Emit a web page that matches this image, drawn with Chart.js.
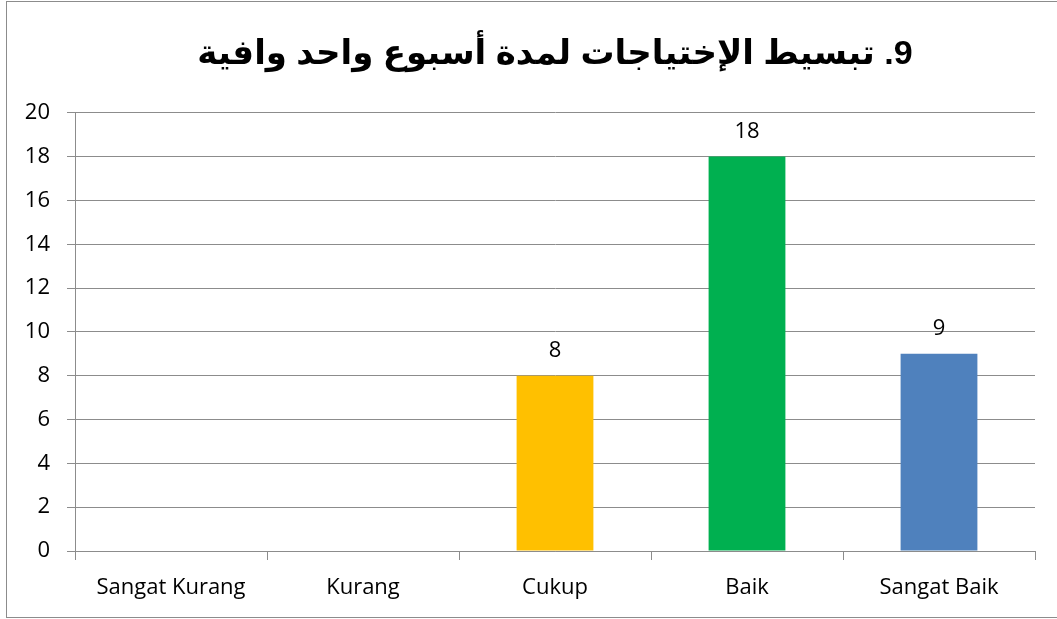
<!DOCTYPE html>
<html lang="en">
<head>
    <meta charset="UTF-8">
    <title>Chart</title>
    <script src="https://cdn.jsdelivr.net/npm/chart.js"></script>
    <style>
        body {
            margin: 0;
            background-color: white;
        }
        .frame {
            position: absolute;
            left: 6px;
            top: 1px;
            width: 1100px;
            height: 615px;
            border: 1px solid #8c8c8c;
        }
        .wrap {
            position: absolute;
            left: 0;
            top: 0;
            width: 1057px;
            height: 619px;
        }
    </style>
</head>
<body>
    <div class="frame"></div>
    <div class="wrap"><canvas id="chart"></canvas></div>

    <script>
        const categories = ['Sangat Kurang', 'Kurang', 'Cukup', 'Baik', 'Sangat Baik'];
        const values = [0, 0, 8, 18, 9];
        const barColors = ['#4F81BD', '#4F81BD', '#FFC000', '#00B050', '#4F81BD'];
        const yTicks = [0, 2, 4, 6, 8, 10, 12, 14, 16, 18, 20];
        const titleText = '\u202B9. تبسيط الإختياجات لمدة أسبوع واحد وافية\u202C';

        const labelFont = '"Open Sans", sans-serif';

        // value labels above the bars (zeros are left out, like the original)
        const valueLabels = {
            id: 'valueLabels',
            afterDatasetsDraw(chart) {
                const ctx = chart.ctx;
                const meta = chart.getDatasetMeta(0);
                ctx.save();
                ctx.font = '22px ' + labelFont;
                ctx.fillStyle = '#000';
                ctx.textAlign = 'center';
                ctx.textBaseline = 'alphabetic';
                meta.data.forEach((bar, i) => {
                    if (!values[i]) return;
                    ctx.fillText(String(values[i]), bar.x, bar.y - 19);
                });
                ctx.restore();
            }
        };

        new Chart(document.getElementById('chart'), {
            type: 'bar',
            data: {
                labels: categories,
                datasets: [{
                    data: values,
                    backgroundColor: barColors,
                    categoryPercentage: 1,
                    barPercentage: 0.4
                }]
            },
            options: {
                responsive: true,
                maintainAspectRatio: false,
                animation: false,
                layout: { padding: { left: 0, right: 22, top: 0, bottom: 0 } },
                plugins: {
                    legend: { display: false },
                    tooltip: { enabled: false },
                    title: {
                        display: true,
                        fullSize: false, // centre over the plot area
                        text: titleText,
                        color: '#000',
                        font: { family: 'Arial, "DejaVu Sans", sans-serif', size: 34, weight: 'bold', lineHeight: 1.2 },
                        padding: { top: 34, bottom: 38 }
                    }
                },
                scales: {
                    x: {
                        afterFit(scale) { scale.height = 68; },
                        grid: {
                            offset: true,
                            drawOnChartArea: false,
                            tickLength: 9,
                            color: '#8c8c8c'
                        },
                        border: { color: '#8c8c8c' },
                        ticks: {
                            color: '#000',
                            padding: 15,
                            font: { family: labelFont, size: 22 }
                        }
                    },
                    y: {
                        min: 0,
                        max: 20,
                        afterFit(scale) { scale.width = 75; },
                        afterBuildTicks(scale) {
                            scale.ticks = yTicks.map(v => ({ value: v }));
                        },
                        grid: {
                            color: '#8c8c8c',
                            tickLength: 8
                        },
                        border: { color: '#8c8c8c' },
                        ticks: {
                            color: '#000',
                            padding: 17,
                            font: { family: labelFont, size: 22 }
                        }
                    }
                }
            },
            plugins: [valueLabels]
        });
    </script>
</body>
</html>
